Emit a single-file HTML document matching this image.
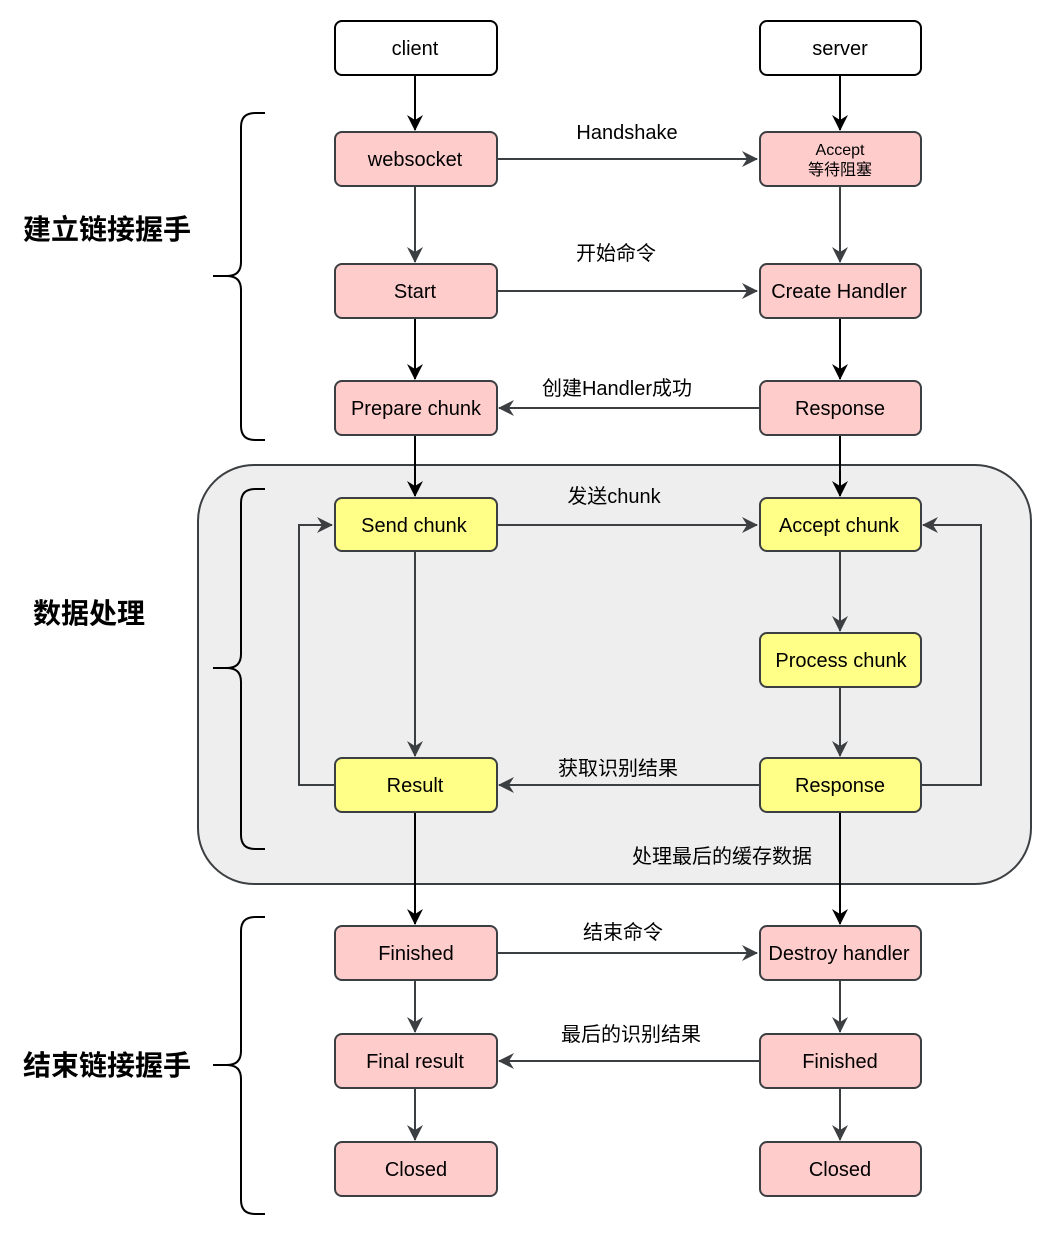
<!DOCTYPE html>
<html><head><meta charset="utf-8"><style>
body{margin:0;background:#fff}
svg text{font-family:"Liberation Sans","Noto Sans CJK SC",sans-serif;fill:#000}
</style></head><body>
<svg width="1052" height="1236" viewBox="0 0 1052 1236" xmlns="http://www.w3.org/2000/svg">
<defs>
<marker id="a" markerWidth="18" markerHeight="18" refX="15" refY="8" orient="auto" markerUnits="userSpaceOnUse" viewBox="0 0 18 16"><path d="M0,0 L16,8 L0,16 L5,8 Z" fill="#3c3f42"/></marker>
<marker id="b" markerWidth="18" markerHeight="18" refX="15" refY="8" orient="auto" markerUnits="userSpaceOnUse" viewBox="0 0 18 16"><path d="M0,0 L16,8 L0,16 L5,8 Z" fill="#000"/></marker>
</defs>
<rect x="198" y="465" width="833" height="419" rx="56" fill="#eeeeee" stroke="#3c3f42" stroke-width="2"/>
<g fill="none" stroke="#000" stroke-width="2">
<path d="M265,113 H255 Q241,113 241,127 V262 Q241,276 227,276 H213 H227 Q241,276 241,290 V426 Q241,440 255,440 H265"/>
<path d="M265,489 H255 Q241,489 241,503 V654 Q241,668 227,668 H213 H227 Q241,668 241,682 V835 Q241,849 255,849 H265"/>
<path d="M265,917 H255 Q241,917 241,931 V1051 Q241,1065 227,1065 H213 H227 Q241,1065 241,1079 V1200 Q241,1214 255,1214 H265"/>
</g>
<g stroke="#000" stroke-width="2" fill="none">
<line x1="415" y1="75" x2="415" y2="130" marker-end="url(#b)"/>
<line x1="840" y1="75" x2="840" y2="130" marker-end="url(#b)"/>
<line x1="415" y1="318" x2="415" y2="379" marker-end="url(#b)"/>
<line x1="840" y1="318" x2="840" y2="379" marker-end="url(#b)"/>
<line x1="415" y1="435" x2="415" y2="496" marker-end="url(#b)"/>
<line x1="840" y1="435" x2="840" y2="496" marker-end="url(#b)"/>
<line x1="415" y1="812" x2="415" y2="924" marker-end="url(#b)"/>
<line x1="840" y1="812" x2="840" y2="924" marker-end="url(#b)"/>
</g>
<g stroke="#3c3f42" stroke-width="2" fill="none">
<line x1="497" y1="159" x2="757" y2="159" marker-end="url(#a)"/>
<line x1="415" y1="186" x2="415" y2="262" marker-end="url(#a)"/>
<line x1="840" y1="186" x2="840" y2="262" marker-end="url(#a)"/>
<line x1="497" y1="291" x2="757" y2="291" marker-end="url(#a)"/>
<line x1="759" y1="408" x2="499" y2="408" marker-end="url(#a)"/>
<line x1="497" y1="525" x2="757" y2="525" marker-end="url(#a)"/>
<line x1="415" y1="551" x2="415" y2="756" marker-end="url(#a)"/>
<line x1="840" y1="551" x2="840" y2="631" marker-end="url(#a)"/>
<line x1="840" y1="687" x2="840" y2="756" marker-end="url(#a)"/>
<line x1="759" y1="785" x2="499" y2="785" marker-end="url(#a)"/>
<path d="M334,785 H299 V525 H332" marker-end="url(#a)"/>
<path d="M921,785 H981 V525 H923" marker-end="url(#a)"/>
<line x1="497" y1="953" x2="757" y2="953" marker-end="url(#a)"/>
<line x1="415" y1="980" x2="415" y2="1032" marker-end="url(#a)"/>
<line x1="840" y1="980" x2="840" y2="1032" marker-end="url(#a)"/>
<line x1="759" y1="1061" x2="499" y2="1061" marker-end="url(#a)"/>
<line x1="415" y1="1088" x2="415" y2="1140" marker-end="url(#a)"/>
<line x1="840" y1="1088" x2="840" y2="1140" marker-end="url(#a)"/>
</g>
<g stroke-width="2" font-size="20" text-anchor="middle">
<rect x="335" y="21" width="162" height="54" rx="7" fill="#fff" stroke="#000"/>
<rect x="760" y="21" width="161" height="54" rx="7" fill="#fff" stroke="#000"/>
<g fill="#ffcccc" stroke="#3c3f42">
<rect x="335" y="132" width="162" height="54" rx="7"/>
<rect x="760" y="132" width="161" height="54" rx="7"/>
<rect x="335" y="264" width="162" height="54" rx="7"/>
<rect x="760" y="264" width="161" height="54" rx="7"/>
<rect x="335" y="381" width="162" height="54" rx="7"/>
<rect x="760" y="381" width="161" height="54" rx="7"/>
<rect x="335" y="926" width="162" height="54" rx="7"/>
<rect x="760" y="926" width="161" height="54" rx="7"/>
<rect x="335" y="1034" width="162" height="54" rx="7"/>
<rect x="760" y="1034" width="161" height="54" rx="7"/>
<rect x="335" y="1142" width="162" height="54" rx="7"/>
<rect x="760" y="1142" width="161" height="54" rx="7"/>
</g>
<g fill="#ffff88" stroke="#3c3f42">
<rect x="335" y="498" width="162" height="53" rx="7"/>
<rect x="760" y="498" width="161" height="53" rx="7"/>
<rect x="760" y="633" width="161" height="54" rx="7"/>
<rect x="335" y="758" width="162" height="54" rx="7"/>
<rect x="760" y="758" width="161" height="54" rx="7"/>
</g>
<text x="415" y="55">client</text>
<text x="840" y="55">server</text>
<text x="415" y="166">websocket</text>
<text x="840" y="155" font-size="16">Accept</text>
<text x="840" y="175" font-size="16">等待阻塞</text>
<text x="415" y="298">Start</text>
<text x="839" y="298">Create Handler</text>
<text x="416" y="415">Prepare chunk</text>
<text x="840" y="415">Response</text>
<text x="414" y="532">Send chunk</text>
<text x="839" y="532">Accept chunk</text>
<text x="841" y="667">Process chunk</text>
<text x="415" y="792">Result</text>
<text x="840" y="792">Response</text>
<text x="416" y="960">Finished</text>
<text x="839" y="960">Destroy handler</text>
<text x="415" y="1068">Final result</text>
<text x="840" y="1068">Finished</text>
<text x="416" y="1176">Closed</text>
<text x="840" y="1176">Closed</text>
<text x="627" y="139">Handshake</text>
<text x="616" y="260">开始命令</text>
<text x="617" y="395">创建Handler成功</text>
<text x="614" y="503">发送chunk</text>
<text x="618" y="775">获取识别结果</text>
<text x="722" y="863">处理最后的缓存数据</text>
<text x="623" y="939">结束命令</text>
<text x="631" y="1041">最后的识别结果</text>
</g>
<g font-size="28" font-weight="bold">
<text x="23" y="239">建立链接握手</text>
<text x="33" y="623">数据处理</text>
<text x="23" y="1075">结束链接握手</text>
</g>
</svg>
</body></html>
